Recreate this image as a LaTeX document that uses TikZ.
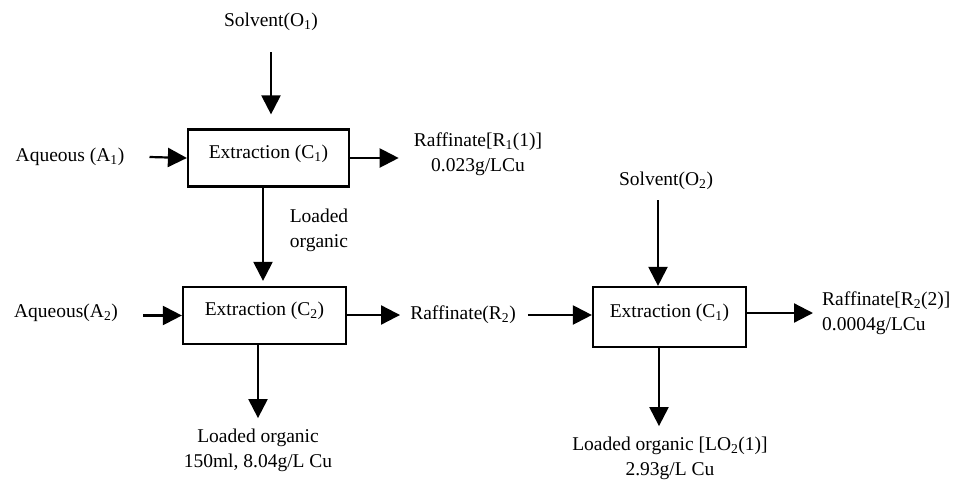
\documentclass[tikz,border=0pt]{standalone}
\usepackage{fontspec}
\setmainfont{Liberation Serif}
\usetikzlibrary{arrows.meta}
\tikzset{
  proc/.style={draw, line width=2.2pt, inner sep=0pt, text height=14pt, text depth=14pt},
  lbl/.style={inner sep=0pt, align=center},
  arr/.style={line width=2.2pt, -{Triangle[length=19pt,width=19pt]}}
}
\begin{document}
\begin{tikzpicture}[x=1pt,y=-1pt,font=\fontsize{19.5}{25}\selectfont]
\useasboundingbox (0,0) rectangle (960,482);
% boxes
\node[proc, minimum width=161pt, minimum height=57pt] (box1) at (268.5,158) {Extraction (C\textsubscript{1})};
\node[proc, minimum width=163pt, minimum height=57pt] (box2) at (264.5,315.5) {Extraction (C\textsubscript{2})};
\node[proc, minimum width=153pt, minimum height=60pt] (box3) at (669.5,317) {Extraction (C\textsubscript{1})};
% labels
\node[lbl] (so1) at (271,22) {Solvent(O\textsubscript{1})};
\node[lbl] (a1) at (70,157) {Aqueous (A\textsubscript{1})};
\node[lbl] (r1) at (478,154) {Raffinate[R\textsubscript{1}(1)]\\0.023g/LCu};
\node[lbl] (lo1) at (319,230) {Loaded\\organic};
\node[lbl] (a2) at (66,313) {Aqueous(A\textsubscript{2})};
\node[lbl] (rr2) at (463,315) {Raffinate(R\textsubscript{2})};
\node[lbl] (lo2) at (258,450) {Loaded organic\\150ml, 8.04g/L Cu};
\node[lbl] (so2) at (666,181) {Solvent(O\textsubscript{2})};
\node[lbl, align=left, anchor=west] (r3) at (822,313) {Raffinate[R\textsubscript{2}(2)]\\0.0004g/LCu};
\node[lbl] (lo3) at (670,458) {Loaded organic [LO\textsubscript{2}(1)]\\2.93g/L Cu};
% connectors
\draw[arr] ([yshift=-21pt]so1.south) -- ([xshift=2.5pt,yshift=14pt]box1.north);
\draw[arr] ([xshift=25pt]a1.east) -- (box1.west);
\draw[arr] (box1.east) -- ([xshift=-15pt]r1.west |- box1.east);
\draw[arr] ([xshift=-5.5pt]box1.south) -- ([xshift=-1.5pt,yshift=5pt]box2.north);
\draw[arr] ([xshift=25pt]a2.east |- box2.west) -- (box2.west);
\draw[arr] (box2.east |- rr2.west) -- ([xshift=-10pt]rr2.west);
\draw[arr] ([xshift=12pt]rr2.east) -- (box3.west |- rr2.east);
\draw[arr] ([xshift=-6.5pt]box2.south) -- ([xshift=-6.5pt,yshift=-73pt]box2.south);
\draw[arr] ([xshift=-8pt,yshift=-10pt]so2.south) -- ([xshift=-11.5pt]box3.north);
\draw[arr] (box3.east |- r3.west) -- ([xshift=-9pt]r3.west);
\draw[arr] ([xshift=-10.5pt]box3.south) -- ([xshift=-10.5pt,yshift=-78pt]box3.south);
\end{tikzpicture}
\end{document}
